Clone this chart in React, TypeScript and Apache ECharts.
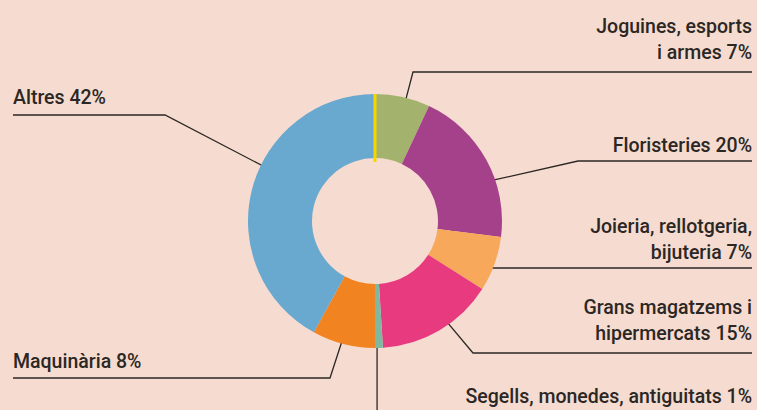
import React, { useEffect, useRef } from 'react';
import * as echarts from 'echarts';

// ---- Data ----
const categories = [
  'Joguines, esports i armes',
  'Floristeries',
  'Joieria, rellotgeria, bijuteria',
  'Grans magatzems i hipermercats',
  'Segells, monedes, antiguitats',
  'Maquinària',
  'Altres',
];
const values = [7, 20, 7, 15, 1, 8, 42];
const labelTexts = [
  'Joguines, esports\ni armes 7%',
  'Floristeries 20%',
  'Joieria, rellotgeria,\nbijuteria 7%',
  'Grans magatzems i\nhipermercats 15%',
  'Segells, monedes, antiguitats 1%',
  'Maquinària 8%',
  'Altres 42%',
];
const colors = ['#a3b36d', '#a5408b', '#f7a85a', '#e83a7f', '#7fb7a1', '#f28321', '#69a9cf'];

// ---- Layout ----
const W = 757;
const H = 410;
const CX = 375;
const CY = 221;
const R_IN = 63;
const R_OUT = 127;
const BG = '#f6dbd0';
const INK = '#2b2724';
const LEFT_X = 13;
const RIGHT_X = 752;

const LABEL_LAYOUT = [
  { side: 'right', textY: 65, lineY: 72, bendX: 413, shift: 1.6, r: 118 },
  { side: 'right', textY: 158, lineY: 161, bendX: 578, shift: 9.3, r: 117 },
  { side: 'right', textY: 265, lineY: 268, bendX: 483, shift: -13.1, r: 77 },
  { side: 'right', textY: 346, lineY: 353, bendX: 473, shift: -4.7, r: 119 },
  { side: 'right', textY: 409, lineY: -1, bendX: -1, shift: 0.8, r: 119 },
  { side: 'left', textY: 374, lineY: 378, bendX: 330, shift: 0.9, r: 121 },
  { side: 'left', textY: 110, lineY: 115, bendX: 165, shift: 11.7, r: 120 },
];

export default function App() {
  const ref = useRef<HTMLDivElement>(null);
  useEffect(() => {
    document.body.style.margin = '0';
    const chart = echarts.init(ref.current!, null, { renderer: 'svg' });
    const total = values.reduce((a, b) => a + b, 0);
    let cum = 0;
    const midDeg = values.map((v) => {
      const m = ((cum + v / 2) / total) * 360;
      cum += v;
      return m;
    });
    const polar = (deg: number, r: number) => [
      CX + r * Math.sin((deg * Math.PI) / 180),
      CY - r * Math.cos((deg * Math.PI) / 180),
    ];

    chart.setOption({
      animation: false,
      backgroundColor: BG,
      series: [
        {
          type: 'pie',
          silent: true,
          center: [CX, CY],
          radius: [R_IN, R_OUT],
          startAngle: 90,
          clockwise: true,
          avoidLabelOverlap: false,
          data: categories.map((c, i) => ({
            name: c,
            value: values[i],
            itemStyle: { color: colors[i] },
          })),
          label: {
            show: true,
            position: 'outside',
            formatter: (p: any) => labelTexts[p.dataIndex],
            color: INK,
            fontFamily: 'Roboto',
            fontWeight: 500,
            fontSize: 19.5,
            lineHeight: 26,
          },
          labelLine: {
            show: true,
            smooth: false,
            length: 10,
            length2: 10,
            lineStyle: { color: INK, width: 1.3 },
          },
          labelLayout: (p: any) => {
            const L = LABEL_LAYOUT[p.dataIndex];
            if (!L) return {};
            const start = polar(midDeg[p.dataIndex] + L.shift, L.r);
            let pts: number[][];
            if (L.lineY < 0) {
              pts = [start, [start[0], H + 2], [start[0], H + 6]];
            } else {
              const endX = L.side === 'right' ? RIGHT_X : LEFT_X;
              pts = [start, [L.bendX, L.lineY], [endX, L.lineY]];
            }
            return {
              x: L.side === 'right' ? RIGHT_X : LEFT_X,
              y: L.textY,
              align: L.side === 'right' ? 'right' : 'left',
              verticalAlign: 'bottom',
              hideOverlap: false,
              labelLinePoints: pts,
            };
          },
          z: 2,
        },
      ],
      graphic: {
        elements: [
          {
            type: 'line',
            silent: true,
            z: 100,
            shape: { x1: CX, y1: CY - R_OUT, x2: CX, y2: CY - R_IN + 4 },
            style: { stroke: '#f7d600', lineWidth: 3 },
          },
        ],
      },
    });
    return () => chart.dispose();
  }, []);
  return <div ref={ref} style={{ width: W, height: H }} />;
}
